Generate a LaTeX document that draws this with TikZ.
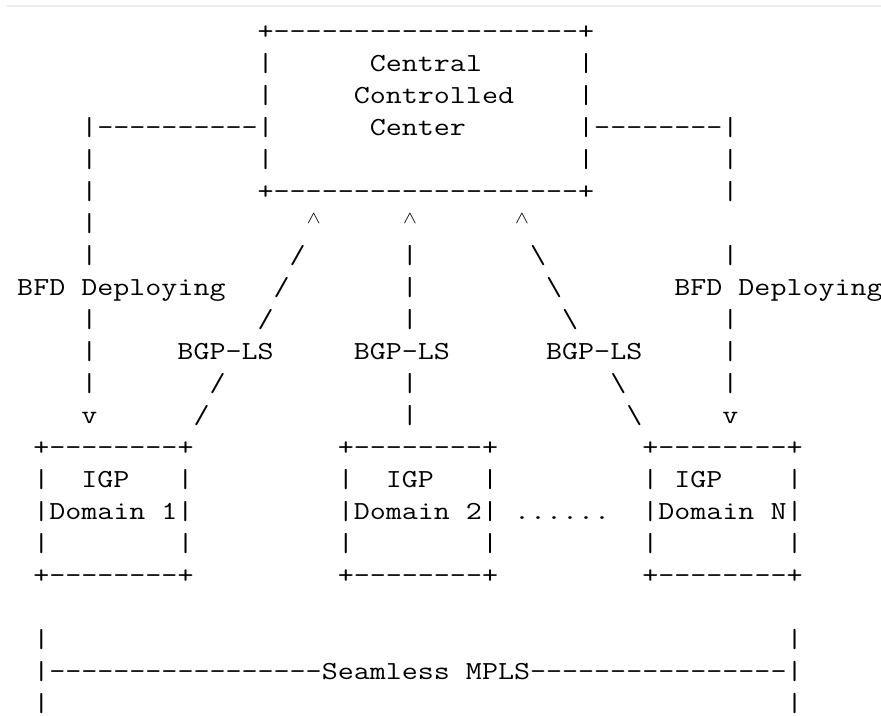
\documentclass[tikz,border=0pt]{standalone}
\usepackage{tikz}

\newcommand\sk[1]{\hspace*{#1\fontcharwd\font`x}}
\newcommand\dashes[1]{\foreach\j in {1,...,#1}{-\kern0pt}}
\newcommand\mycaret{\makebox[\fontcharwd\font`x]{\raisebox{0.3em}{$\scriptstyle\wedge$}}}
\newcommand\bsl{\textbackslash}

\tikzset{
  txt/.style={font=\fontsize{26}{26}\selectfont\ttfamily\frenchspacing,
    anchor=base west, inner sep=0pt, xscale=1.197},
  topline/.style={line width=2pt, black!7}
}

\begin{document}
\begin{tikzpicture}[x=1pt,y=-1pt]
 \useasboundingbox (0,0) rectangle (881,715);
 \draw[topline](7,6)--(881,6);
 \node[txt] (r1) at (17,39) {\sk{15}+\dashes{19}+};
 \node[txt] (r2) at (17,71) {\sk{15}|\sk{6}Central\sk{6}|};
 \node[txt] (r3) at (17,103) {\sk{15}|\sk{5}Controlled\sk{4}|};
 \node[txt] (r4) at (17,135) {\sk{4}|\dashes{10}|\sk{6}Center\sk{7}|\dashes{8}|};
 \node[txt] (r5) at (17,167) {\sk{4}|\sk{10}|\sk{19}|\sk{8}|};
 \node[txt] (r6) at (17,199) {\sk{4}|\sk{10}+\dashes{19}+\sk{8}|};
 \node[txt] (r7) at (17,231) {\sk{4}|\sk{13}\mycaret\sk{5}\mycaret\sk{6}\mycaret};
 \node[txt] (r8) at (17,263) {\sk{4}|\sk{12}/\sk{6}|\sk{7}\bsl\sk{11}|};
 \node[txt] (r9) at (17,295) {BFD Deploying\sk{3}/\sk{7}|\sk{8}\bsl\sk{7}BFD Deploying};
 \node[txt] (r10) at (17,327) {\sk{4}|\sk{10}/\sk{8}|\sk{9}\bsl\sk{9}|};
 \node[txt] (r11) at (17,359) {\sk{4}|\sk{5}BGP-LS\sk{5}BGP-LS\sk{6}BGP-LS\sk{5}|};
 \node[txt] (r12) at (17,391) {\sk{4}|\sk{7}/\sk{11}|\sk{12}\bsl\sk{6}|};
 \node[txt] (r13) at (17,423) {\sk{4}v\sk{6}/\sk{12}|\sk{13}\bsl\sk{5}v};
 \node[txt] (r14) at (17,455) {\sk{1}+\dashes{8}+\sk{9}+\dashes{8}+\sk{9}+\dashes{8}+};
 \node[txt] (r15) at (17,487) {\sk{1}|\sk{2}IGP\sk{3}|\sk{9}|\sk{2}IGP\sk{3}|\sk{9}|\sk{1}IGP\sk{4}|};
 \node[txt] (r16) at (17,519) {\sk{1}|Domain 1|\sk{9}|Domain 2|\sk{1}......\sk{2}|Domain N|};
 \node[txt] (r17) at (17,551) {\sk{1}|\sk{8}|\sk{9}|\sk{8}|\sk{9}|\sk{8}|};
 \node[txt] (r18) at (17,583) {\sk{1}+\dashes{8}+\sk{9}+\dashes{8}+\sk{9}+\dashes{8}+};
 \node[txt] (r20) at (17,647) {\sk{1}|\sk{46}|};
 \node[txt] (r21) at (17,679) {\sk{1}|\dashes{17}Seamless MPLS\dashes{16}|};
 \node[txt] (r22) at (17,711) {\sk{1}|\sk{46}|};
\end{tikzpicture}
\end{document}
